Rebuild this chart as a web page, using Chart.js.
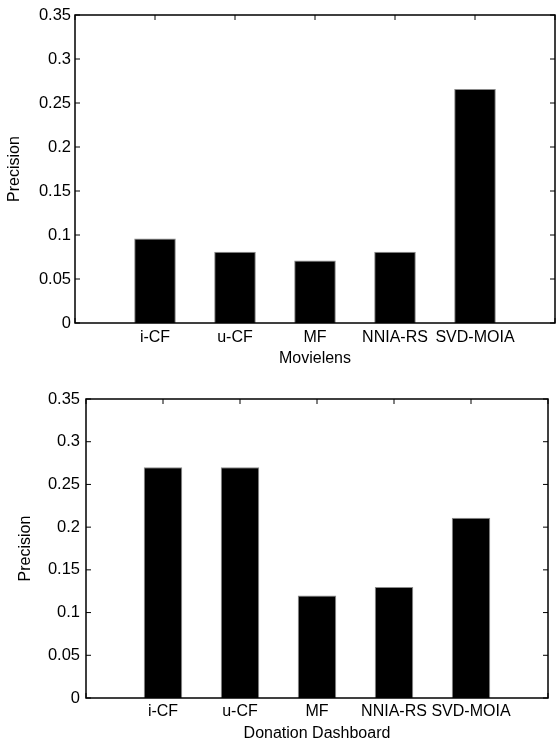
<!DOCTYPE html>
<html>
<head>
<meta charset="utf-8">
<script src="https://cdn.jsdelivr.net/npm/chart.js@4.4.1/dist/chart.umd.min.js"></script>
<style>
  body { margin: 0; background: #fff; overflow: hidden; }
  canvas { display: block; }
</style>
</head>
<body>
<canvas id="movielens" width="560" height="370"></canvas>
<canvas id="donation" width="556" height="373"></canvas>
<script>
// values
const categories = ["i-CF", "u-CF", "MF", "NNIA-RS", "SVD-MOIA"];
const movielensPrecision = [0.096, 0.081, 0.071, 0.081, 0.266];
const donationPrecision = [0.27, 0.27, 0.12, 0.13, 0.211];
const yTickLabels = ["0", "0.05", "0.1", "0.15", "0.2", "0.25", "0.3", "0.35"];

Chart.defaults.font.family = "'Liberation Sans', Arial, Helvetica, sans-serif";
Chart.defaults.font.size = 16;
Chart.defaults.color = "#000";

// matlab style box with inward ticks
const matlabBox = {
  id: "matlabBox",
  afterDatasetsDraw(chart) {
    const { ctx, chartArea: a, scales } = chart;
    const x = scales.x;
    const y = scales.y;
    const len = 5;
    ctx.save();
    ctx.strokeStyle = "#000";
    ctx.lineWidth = 1;
    ctx.beginPath();
    x.ticks.forEach((t, i) => {
      const px = x.getPixelForTick(i);
      ctx.moveTo(px, a.bottom);
      ctx.lineTo(px, a.bottom - len);
      ctx.moveTo(px, a.top);
      ctx.lineTo(px, a.top + len);
    });
    y.ticks.forEach((t, i) => {
      const py = y.getPixelForTick(i);
      ctx.moveTo(a.left, py);
      ctx.lineTo(a.left + len, py);
      ctx.moveTo(a.right, py);
      ctx.lineTo(a.right - len, py);
    });
    ctx.stroke();
    ctx.lineWidth = 1.5;
    ctx.strokeRect(a.left, a.top, a.right - a.left, a.bottom - a.top);
    ctx.restore();
  },
};

const makeChart = (el, values, xTitle, opt) => {
  const config = {
    type: "bar",
    data: {
      datasets: [
        {
          data: values.map((v, i) => ({ x: i + 1, y: v })),
          backgroundColor: "#000",
          borderColor: "#8a8a8a",
          borderWidth: 1,
          categoryPercentage: 1,
          barPercentage: opt.barPct,
        },
      ],
    },
    options: {
      responsive: false,
      animation: false,
      devicePixelRatio: 1,
      layout: { padding: { top: opt.top, right: opt.right, left: 0, bottom: 0 } },
      plugins: { legend: { display: false }, tooltip: { enabled: false } },
      scales: {
        x: {
          type: "linear",
          offset: false,
          min: 0,
          max: 6,
          grid: { display: false, drawTicks: false, offset: false },
          border: { display: false },
          afterBuildTicks: (scale) => {
            scale.ticks = [0, 1, 2, 3, 4, 5, 6].map((v) => ({ value: v }));
          },
          afterFit: (scale) => {
            scale.height = opt.xHeight;
          },
          ticks: {
            padding: opt.xTickPad,
            maxRotation: 0,
            autoSkip: false,
            callback: (v) => categories[v - 1] || "",
          },
          title: {
            display: true,
            text: xTitle,
            padding: { top: 0, bottom: opt.xTitlePad },
          },
        },
        y: {
          min: 0,
          max: 0.35,
          grid: { display: false, drawTicks: false },
          border: { display: false },
          afterFit: (scale) => {
            scale.width = opt.yWidth;
          },
          ticks: {
            font: { size: 16.5 },
            stepSize: 0.05,
            padding: opt.yTickPad,
            callback: (v, i) => yTickLabels[i],
          },
          title: {
            display: true,
            text: "Precision",
            padding: { top: opt.yTitlePad, bottom: 0 },
          },
        },
      },
    },
    plugins: [matlabBox],
  };
  return new Chart(el, config);
};

makeChart(document.querySelector("#movielens"), movielensPrecision, "Movielens", {
  barPct: 0.52,
  top: 15,
  right: 0,
  xHeight: 47,
  yWidth: 75,
  xTickPad: 5,
  xTitlePad: 2,
  yTickPad: 4,
  yTitlePad: 5,
});

makeChart(document.querySelector("#donation"), donationPrecision, "Donation Dashboard", {
  barPct: 0.5,
  top: 29,
  right: 8,
  xHeight: 45,
  yWidth: 86,
  xTickPad: 4,
  xTitlePad: 0,
  yTickPad: 6,
  yTitlePad: 16,
});
</script>
</body>
</html>
